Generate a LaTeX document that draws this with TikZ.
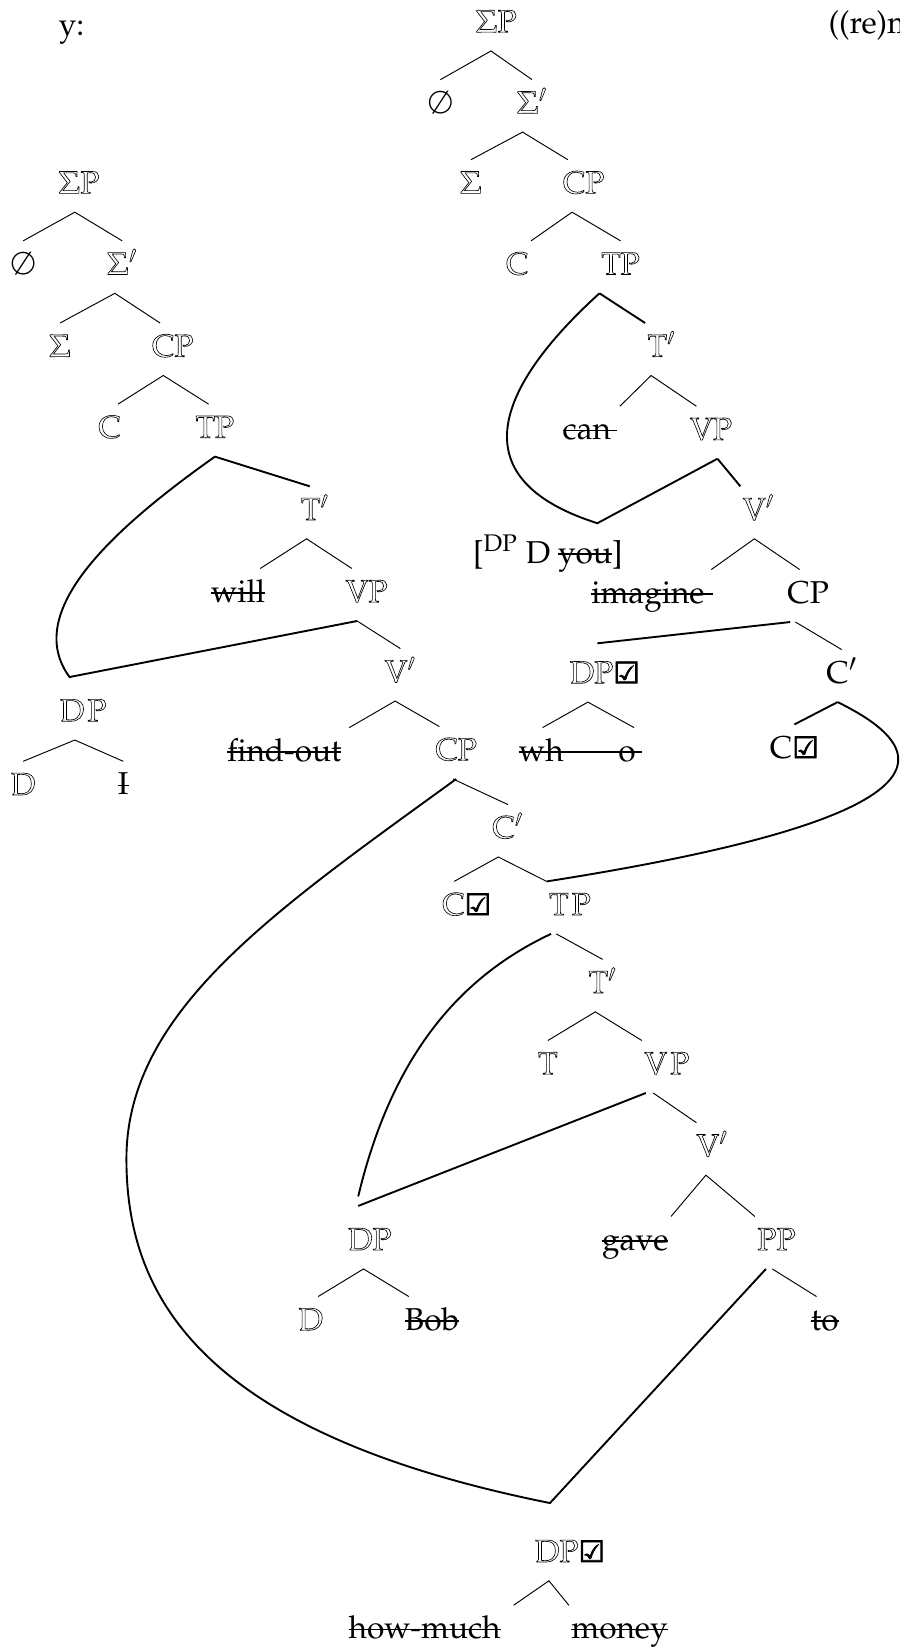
\documentclass[tikz,border=0pt]{standalone}
\usepackage[T1]{fontenc}
\usepackage{mathpazo}
\usepackage{fontspec}
\usetikzlibrary{calc}
\newfontfamily\checkfont{DejaVu Sans}[FakeBold=2.5]
\newcommand{\synfont}{\fontencoding{T1}\fontfamily{ppl}\fontsize{15}{17}\selectfont}
\newcommand{\outl}[1]{\special{pdf:literal direct 1 Tr 0.3 w}#1\special{pdf:literal direct 0 Tr}}
\newsavebox{\strikebox}
\newcommand{\strikeword}[1]{\sbox{\strikebox}{#1}\rlap{\rule[0.27em]{\wd\strikebox}{0.6pt}}\usebox{\strikebox}}
\newcommand{\chk}{{\checkfont\bfseries\fontsize{14}{16}\selectfont ☑}}
\tikzset{
  syn cat/.style={font=\synfont,text height=15.75pt,text depth=8.75pt,
    inner xsep=1pt,inner ysep=0pt,yshift=-1.25pt},
  syn edge/.style={line width=0.45pt},
  syn move/.style={line width=0.9pt}
}

\begin{document}
\begin{tikzpicture}[x=0.5pt,y=-0.5pt]
  \useasboundingbox (0,0) rectangle (854,1568);
  \node[syn cat] (top-y) at (68,24) {y:};
  \node[syn cat,anchor=west] (top-re) at (784,22) {((re)m};
  % middle tree
  \node[syn cat] (m-sp) at (471,21) {\outl{$\Sigma$P}};
  \node[syn cat] (m-null) at (418,98) {$\emptyset$};
  \node[syn cat] (m-sbar) at (505,98) {\outl{$\Sigma'$}};
  \node[syn cat] (m-sig) at (447,174) {\outl{$\Sigma$}};
  \node[syn cat] (m-cp) at (554,174) {\outl{CP}};
  \node[syn cat] (m-c) at (491,251) {\outl{C}};
  \node[syn cat] (m-tp) at (589,251) {\outl{TP}};
  \node[syn cat] (m-tbar) at (628,329) {\outl{T$'$}};
  \node[syn cat] (m-can) at (560,408) {\strikeword{can\kern3pt}};
  \node[syn cat] (m-vp) at (675,408) {\outl{VP}};
  \node[syn cat] (m-vbar) at (720,484) {\outl{V$'$}};
  \node[syn cat] (m-you) at (520,525) {[\textsuperscript{DP} D \strikeword{you}]};
  \node[syn cat] (m-imagine) at (619,563) {\strikeword{imagine\kern4pt}};
  \node[syn cat] (m-cp2) at (767,563) {CP};
  \node[syn cat] (m-dp) at (574,639) {\outl{DP}\chk};
  \node[syn cat] (m-cbar) at (799,639) {C$'$};
  \node[syn cat] (m-who) at (551,713) {\strikeword{wh\kern26pt o\kern3pt}};
  \node[syn cat] (m-cchk) at (754,710) {C\chk};
  % left tree
  \node[syn cat] (l-sp) at (75,174) {\outl{$\Sigma$P}};
  \node[syn cat] (l-null) at (22,251) {$\emptyset$};
  \node[syn cat] (l-sbar) at (116,251) {\outl{$\Sigma'$}};
  \node[syn cat] (l-sig) at (57,329) {\outl{$\Sigma$}};
  \node[syn cat] (l-cp) at (164,329) {\outl{CP}};
  \node[syn cat] (l-c) at (104,406) {\outl{C}};
  \node[syn cat] (l-tp) at (204,406) {\outl{TP}};
  \node[syn cat] (l-tbar) at (299,484) {\outl{T$'$}};
  \node[syn cat] (l-will) at (226,562) {\strikeword{will}};
  \node[syn cat] (l-vp) at (348,562) {\outl{VP}};
  \node[syn cat] (l-vbar) at (380,638) {\outl{V$'$}};
  \node[syn cat] (l-dp) at (79,675) {\outl{D\kern1.5pt P}};
  \node[syn cat] (l-d) at (22,745) {\outl{D}};
  \node[syn cat] (l-i) at (117,745) {\strikeword{I}};
  \node[syn cat] (l-find) at (270,713) {\strikeword{find-out}};
  % lower tree
  \node[syn cat] (lo-cp) at (433,712) {\outl{CP}};
  \node[syn cat] (lo-cbar) at (482,786) {\outl{C$'$}};
  \node[syn cat] (lo-cchk) at (443,859) {\outl{C}\chk};
  \node[syn cat] (lo-tp) at (541,859) {\outl{T\kern1.5pt P}};
  \node[syn cat] (lo-tbar) at (572,933) {\outl{T$'$}};
  \node[syn cat] (lo-t) at (520,1010) {\outl{T}};
  \node[syn cat] (lo-vp) at (633,1010) {\outl{V\kern1.5pt P}};
  \node[syn cat] (lo-vbar) at (676,1088) {\outl{V$'$}};
  \node[syn cat] (lo-dp) at (351,1177) {\outl{DP}};
  \node[syn cat] (lo-d) at (295,1253) {\outl{D}};
  \node[syn cat] (lo-bob) at (410,1253) {\strikeword{Bob}};
  \node[syn cat] (lo-gave) at (603,1177) {\strikeword{gave}};
  \node[syn cat] (lo-pp) at (737,1177) {\outl{PP}};
  \node[syn cat] (lo-to) at (783,1253) {\strikeword{to}};
  \node[syn cat] (lo-dpq) at (541,1473) {\outl{DP}\chk};
  \node[syn cat] (lo-how) at (403,1546) {\strikeword{how-much}};
  \node[syn cat] (lo-money) at (588,1546) {\strikeword{money}};
  % landing points of the movement paths
  \coordinate (l-dp-top) at ($(l-dp.north)+(-13,-10)$);
  \coordinate (m-you-top) at ($(m-you.north)+(47,-6)$);
  \coordinate (lo-dp-in1) at ($(lo-dp.north)+(-11,-19)$);
  \coordinate (lo-dp-in2) at ($(lo-dp.north)+(-11,-10)$);
  \coordinate (lo-dpq-top) at ($(lo-dpq.north)+(-19,-24)$);
  % branches
  \draw[syn edge] (m-null.north) -- ([xshift=-2.5pt]m-sp.south) -- (m-sbar.north);
  \draw[syn edge] (m-sig.north) -- ([xshift=-4.5pt]m-sbar.south) -- ([xshift=-7.5pt]m-cp.north);
  \draw[syn edge] (m-c.north east) -- ([xshift=-5.5pt]m-cp.south) -- (m-tp.north);
  \draw[syn move] ([xshift=-10pt]m-tp.south) -- (m-tbar.north west);
  \draw[syn edge] (m-can.north east) -- ([xshift=-5pt]m-tbar.south) -- ([xshift=-7pt]m-vp.north);
  \draw[syn move] ([xshift=3pt]m-vp.south) -- (m-vbar.north west);
  \draw[syn edge] ([xshift=-2pt]m-imagine.north east) -- ([xshift=-2pt]m-vbar.south) -- ([xshift=-4pt]m-cp2.north);
  \draw[syn edge] ([xshift=-6pt]m-cp2.south) -- (m-cbar.north);
  \draw[syn edge] ([xshift=-18pt]m-who.north) -- ([xshift=-8pt]m-dp.south) -- ([xshift=-5pt]m-who.north east);
  \draw[syn move] (m-cchk.north) -- ([xshift=-2pt]m-cbar.south);
  \draw[syn edge] (l-null.north) -- ([xshift=-2pt]l-sp.south) -- (l-sbar.north);
  \draw[syn edge] (l-sig.north) -- ([xshift=-3.5pt]l-sbar.south) -- ([xshift=-6pt]l-cp.north);
  \draw[syn edge] ([xshift=4pt]l-c.north) -- ([xshift=-4.5pt]l-cp.south) -- ([xshift=-3pt]l-tp.north);
  \draw[syn move] (l-tp.south) -- ([xshift=-2.5pt]l-tbar.north);
  \draw[syn edge] ([xshift=-3.5pt]l-will.north east) -- ([xshift=-4pt]l-tbar.south) -- ([xshift=-7pt]l-vp.north);
  \draw[syn edge] ([xshift=-4.5pt]l-vp.south) -- (l-vbar.north);
  \draw[syn edge] ([xshift=2.5pt]l-find.north east) -- ([xshift=-2.5pt]l-vbar.south) -- ([xshift=-8pt]lo-cp.north);
  \draw[syn edge] (l-d.north) -- ([xshift=-4pt]l-dp.south) -- (l-i.north);
  \draw[syn edge] ([xshift=-1.5pt]lo-cp.south) -- (lo-cbar.north);
  \draw[syn edge] ([xshift=-6pt]lo-cchk.north) -- ([xshift=-4.5pt]lo-cbar.south) -- (lo-tp.north west);
  \draw[syn edge] ([xshift=-6.5pt]lo-tp.south) -- (lo-tbar.north);
  \draw[syn edge] (lo-t.north) -- ([xshift=-3.5pt]lo-tbar.south) -- (lo-vp.north west);
  \draw[syn edge] ([xshift=-6.5pt]lo-vp.south) -- ([xshift=-7.5pt]lo-vbar.north);
  \draw[syn edge] (lo-gave.north east) -- ([xshift=-3pt]lo-vbar.south) -- (lo-pp.north west);
  \draw[syn edge] ([xshift=-2pt]lo-pp.south) -- ([xshift=-4pt]lo-to.north);
  \draw[syn edge] ([xshift=3.5pt]lo-d.north) -- ([xshift=-3pt]lo-dp.south) -- ([xshift=-11pt]lo-bob.north);
  \draw[syn edge] ([xshift=5pt]lo-how.north east) -- ([xshift=-10pt]lo-dpq.south) -- (lo-money.north west);
  % movement paths
  \draw[syn move] ([xshift=-10pt]m-tp.south) .. controls (490,350) and (420,450) .. (m-you-top) -- ([xshift=3pt]m-vp.south);
  \draw[syn move] ([xshift=-8.5pt]m-cp2.south) -- ([xshift=-3.5pt,yshift=3pt]m-dp.north);
  \draw[syn move] ([xshift=-2pt]m-cbar.south) .. controls (905,720) and (880,780) .. (lo-tp.north west);
  \draw[syn move] (l-tp.south) .. controls (110,500) and (20,580) .. (l-dp-top) -- ([xshift=-4.5pt]l-vp.south);
  \draw[syn move] ([xshift=-9pt]lo-tp.south) .. controls (430,930) and (370,1010) .. (lo-dp-in1);
  \draw[syn move] ([xshift=-10pt]lo-vp.south) -- (lo-dp-in2);
  \draw[syn move] (lo-cp.south) .. controls (260,865) and (120,960) .. (120,1100)
    .. controls (120,1230) and (190,1360) .. (lo-dpq-top) -- ([xshift=-5pt]lo-pp.south);
\end{tikzpicture}
\end{document}
